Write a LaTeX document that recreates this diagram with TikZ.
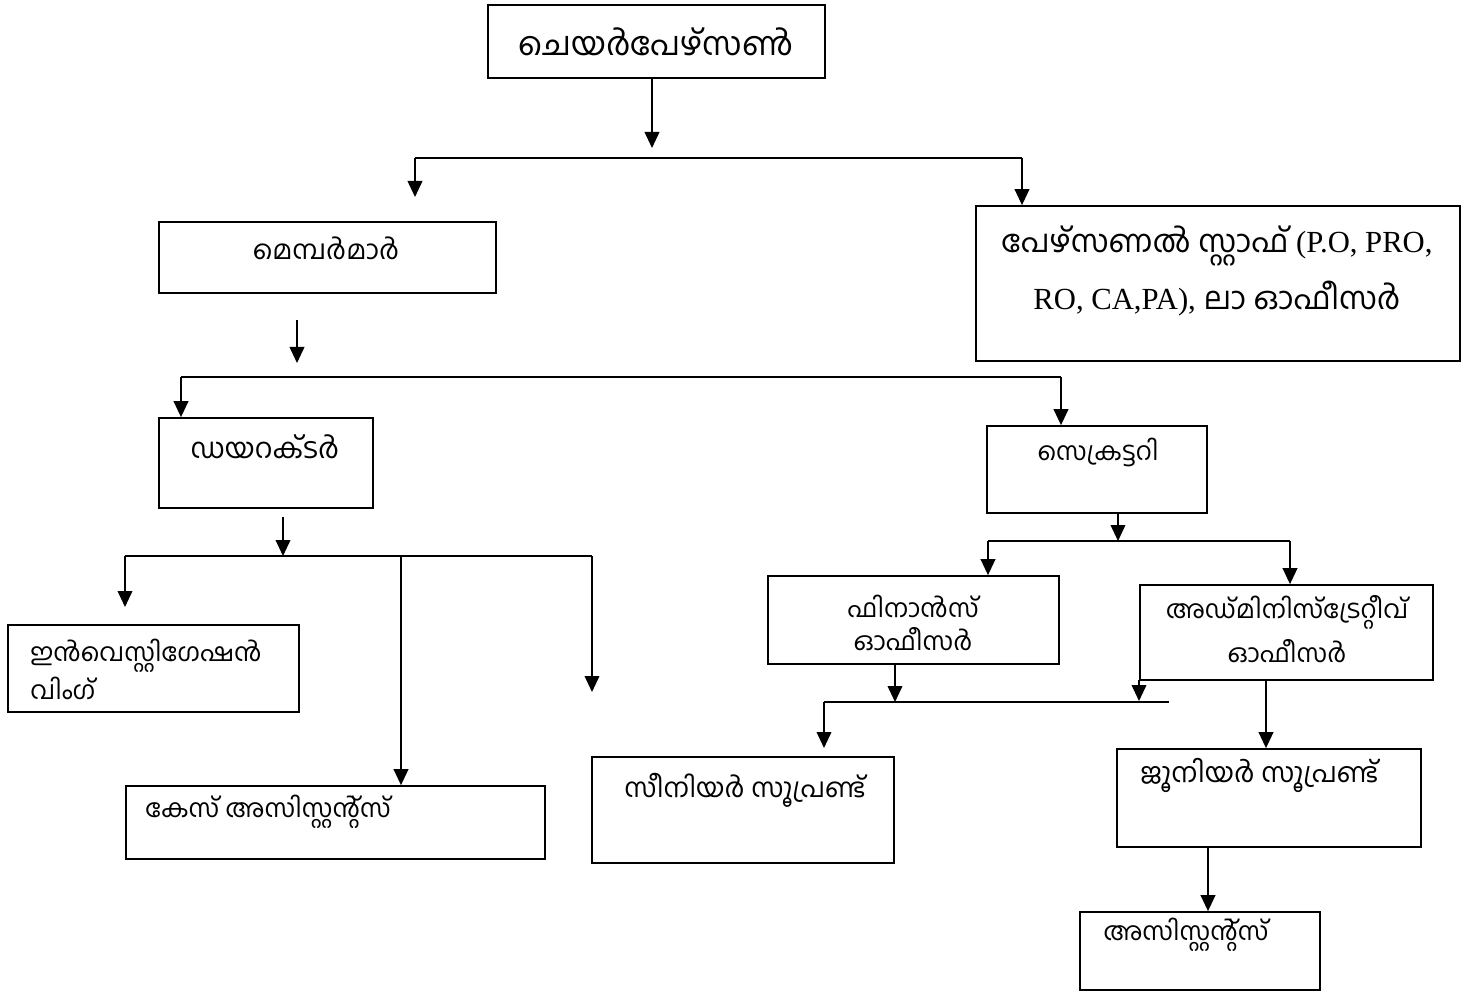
\documentclass[tikz,border=0pt]{standalone}
\usepackage{fontspec}
\setmainfont{Liberation Serif}
\newfontfamily\mal[Script=Malayalam]{Hind Kochi}
\usetikzlibrary{arrows.meta}
\begin{document}
\begin{tikzpicture}[x=0.75pt,y=-0.75pt,
  box/.style={draw,line width=1.3pt,inner sep=0pt},
  lbl/.style={inner sep=0pt,font=\fontsize{19}{23}\selectfont\mal},
  conn/.style={line width=1.3pt},
  arr/.style={line width=1.3pt,-{Triangle[width=11pt,length=12pt]}}]
\useasboundingbox (0,0) rectangle (1468,991);
% boxes
\node[box,minimum width=337*0.75pt,minimum height=73*0.75pt] (chair) at (656.5,41.5) {};
\node[box,minimum width=337*0.75pt,minimum height=71*0.75pt] (members) at (327.5,257.5) {};
\node[box,minimum width=484*0.75pt,minimum height=155*0.75pt] (staff) at (1218,283.5) {};
\node[box,minimum width=214*0.75pt,minimum height=90*0.75pt] (director) at (266,463) {};
\node[box,minimum width=220*0.75pt,minimum height=87*0.75pt] (secretary) at (1097,469.5) {};
\node[box,minimum width=291*0.75pt,minimum height=87*0.75pt] (invest) at (153.5,668.5) {};
\node[box,minimum width=419*0.75pt,minimum height=73*0.75pt] (case) at (335.5,822.5) {};
\node[box,minimum width=291*0.75pt,minimum height=88*0.75pt] (finance) at (913.5,620) {};
\node[box,minimum width=293*0.75pt,minimum height=95*0.75pt] (admin) at (1286.5,632.5) {};
\node[box,minimum width=302*0.75pt,minimum height=106*0.75pt] (senior) at (743,810) {};
\node[box,minimum width=304*0.75pt,minimum height=98*0.75pt] (junior) at (1269,798) {};
\node[box,minimum width=240*0.75pt,minimum height=78*0.75pt] (assist) at (1200,951) {};
% texts
\node[lbl,font=\fontsize{24.5}{29}\selectfont\mal] (tchair) at (656,42) {ചെയർപേഴ്സൺ};
\node[lbl,font=\fontsize{20}{24}\selectfont\mal] (tmembers) at (326,248) {മെമ്പർമാർ};
\node[inner sep=0pt,align=center,font=\fontsize{23}{43}\selectfont] (tstaff) at (1217,271)
  {{\fontsize{23.5}{43}\selectfont\mal പേഴ്സണൽ സ്റ്റാഫ്} (P.O, PRO,\\RO, CA,PA), {\fontsize{23.5}{43}\selectfont\mal ലാ ഓഫീസർ}};
\node[lbl,font=\fontsize{21}{25}\selectfont\mal] (tdirector) at (265,447) {ഡയറക്ടർ};
\node[lbl] (tsecretary) at (1098,452) {സെക്രട്ടറി};
\node[lbl,anchor=west,align=left,font=\fontsize{19}{28.5}\selectfont\mal] (tinvest) at (30,669) {ഇൻവെസ്റ്റിഗേഷൻ\\വിംഗ്};
\node[lbl,anchor=west] (tcase) at (145,812) {കേസ് അസിസ്റ്റന്റ്സ്};
\node[lbl,align=center,font=\fontsize{19}{25}\selectfont\mal] (tfinance) at (913,623) {ഫിനാൻസ്\\ഓഫീസർ};
\node[lbl,align=center,font=\fontsize{19}{33}\selectfont\mal] (tadmin) at (1287,629) {അഡ്മിനിസ്ട്രേറ്റീവ്\\ഓഫീസർ};
\node[lbl,anchor=west,font=\fontsize{20}{24}\selectfont\mal] (tsenior) at (624,790) {സീനിയർ സൂപ്രണ്ട്};
\node[lbl,anchor=west,font=\fontsize{20.5}{24}\selectfont\mal] (tjunior) at (1140,775) {ജൂനിയർ സൂപ്രണ്ട്};
\node[lbl,anchor=west] (tassist) at (1103,935) {അസിസ്റ്റന്റ്സ്};
% junction coordinates
\coordinate (c1) at (652,78);
\coordinate (j1) at (652,158);
\coordinate (j1l) at (415,158);
\coordinate (j1r) at (1022,158);
\coordinate (c2) at (297,320);
\coordinate (j2l) at (181,377);
\coordinate (j2r) at (1061,377);
\coordinate (c3) at (283,517);
\coordinate (j3l) at (125,556);
\coordinate (j3m) at (401,556);
\coordinate (j3r) at (592,556);
\coordinate (e3r) at (592,692);
\coordinate (c4) at (1118,513);
\coordinate (j4l) at (988,541);
\coordinate (j4r) at (1290,541);
\coordinate (c5) at (895,664);
\coordinate (j5l) at (824,702);
\coordinate (j5r) at (1169,702);
\coordinate (c6) at (1139,680);
\coordinate (e6) at (1139,701);
\coordinate (c7) at (1266,680);
\coordinate (c8) at (1208,847);
\coordinate (e2) at (415,197);
\coordinate (e7) at (297,363);
\coordinate (e8) at (824,748);
% connectors
\draw[arr] (c1) -- (j1 |- 0,148);
\draw[conn] (j1l) -- (j1r);
\draw[arr] (j1l) -- (e2);
\draw[arr] (j1r) -- (j1r |- staff.north);
\draw[arr] (c2) -- (e7);
\draw[conn] (j2l) -- (j2r);
\draw[arr] (j2l) -- (j2l |- director.north);
\draw[arr] (j2r) -- (j2r |- secretary.north);
\draw[arr] (c3) -- (c3 |- j3l);
\draw[conn] (j3l) -- (j3r);
\draw[arr] (j3l) -- (j3l |- 0,607);
\draw[arr] (j3m) -- (j3m |- case.north);
\draw[arr] (j3r) -- (e3r);
\draw[arr] (c4) -- (c4 |- j4l);
\draw[conn] (j4l) -- (j4r);
\draw[arr] (j4l) -- (j4l |- finance.north);
\draw[arr] (j4r) -- (j4r |- admin.north);
\draw[arr] (c5) -- (c5 |- j5l);
\draw[conn] (j5l) -- (j5r);
\draw[arr] (j5l) -- (e8);
\draw[arr] (c6) -- (e6);
\draw[arr] (c7) -- (c7 |- junior.north);
\draw[arr] (c8) -- (c8 |- assist.north);
\end{tikzpicture}
\end{document}
